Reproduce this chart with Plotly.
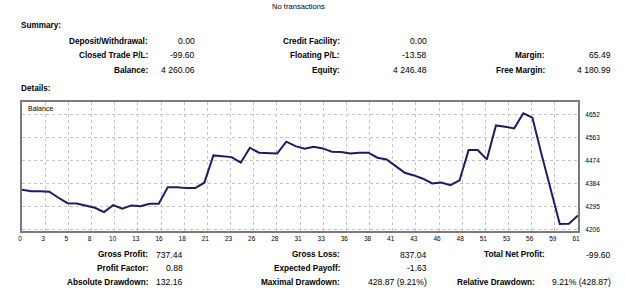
import plotly.graph_objects as go

# ---------------- data ----------------
trade_index = list(range(62))
balance = [4359.66, 4354.5, 4354.5, 4352.2, 4328.9, 4308.0, 4306.8, 4299.1, 4290.2, 4273.1,
           4300.2, 4286.3, 4299.1, 4296.4, 4305.7, 4305.7, 4370.0, 4370.0, 4366.2, 4366.2,
           4387.1, 4493.0, 4490.3, 4486.4, 4464.7, 4522.8, 4503.4, 4500.7, 4500.7, 4546.1,
           4529.0, 4519.0, 4526.7, 4520.1, 4507.3, 4505.8, 4500.7, 4503.4, 4503.4, 4484.0,
           4477.5, 4451.5, 4425.9, 4415.4, 4402.6, 4384.4, 4388.3, 4377.8, 4396.0, 4513.5,
           4513.5, 4477.5, 4609.3, 4604.3, 4597.7, 4656.4, 4639.2, 4497.0, 4362.0, 4227.5,
           4228.0, 4260.06]

x_tick_labels = ["0", "3", "5", "8", "10", "13", "16", "18", "21", "23", "26", "28", "31",
                 "33", "36", "38", "41", "43", "46", "48", "51", "53", "56", "59", "61"]
y_tick_labels = [4206, 4295, 4384, 4474, 4563, 4652]

summary_rows = [
    [("Deposit/Withdrawal:", "0.00"), ("Credit Facility:", "0.00"), None],
    [("Closed Trade P/L:", "-99.60"), ("Floating P/L:", "-13.58"), ("Margin:", "65.49")],
    [("Balance:", "4 260.06"), ("Equity:", "4 246.48"), ("Free Margin:", "4 180.99")],
]
detail_rows = [
    [("Gross Profit:", "737.44"), ("Gross Loss:", "837.04"), ("Total Net Profit:", "-99.60")],
    [("Profit Factor:", "0.88"), ("Expected Payoff:", "-1.63"), None],
    [("Absolute Drawdown:", "132.16"), ("Maximal Drawdown:", "428.87 (9.21%)"),
     ("Relative Drawdown:", "9.21% (428.87)")],
]

# ---------------- layout geometry ----------------
W, H = 625, 297
L, R, T, B = 22, 578, 102, 231
FONT = "Liberation Sans"


def px(xp):
    return (xp - L) / (R - L)


def py(yp):
    return (B - yp) / (B - T)


n_last = trade_index[-1]
n_ticks = len(x_tick_labels)
x_tickvals = [k * n_last / (n_ticks - 1) for k in range(n_ticks)]

fig = go.Figure()
fig.add_trace(go.Scatter(x=trade_index, y=balance, mode="lines",
                         line=dict(color="#1b1b6e", width=2), hoverinfo="skip"))

annotations = []


def add_text(text, x, y, anchor, bold=False, size=8.6):
    annotations.append(dict(
        text=("<b>%s</b>" % text) if bold else text,
        x=px(x), y=py(y), xref="paper", yref="paper",
        xanchor=anchor, yanchor="middle", showarrow=False,
        font=dict(family=FONT, size=size, color="#000000")))


add_text("No transactions", 298, 6, "center", size=7.6)
add_text("Summary:", 19, 25, "left", bold=True, size=8.2)
add_text("Details:", 19, 88, "left", bold=True, size=8.2)

label_right_top = [150, 342, 547]
value_right_top = [197, 429, 613]
rows_y_top = [41, 55, 70]
for r, row in enumerate(summary_rows):
    for c, cell in enumerate(row):
        if cell is None:
            continue
        add_text(cell[0], label_right_top[c], rows_y_top[r], "right", bold=True, size=8.2)
        add_text(cell[1], value_right_top[c], rows_y_top[r], "right", size=8.6)

label_right_bot = [150, 342, 547]
value_right_bot = [185, 429, 613]
rows_y_bot = [255, 268, 282]
for r, row in enumerate(detail_rows):
    for c, cell in enumerate(row):
        if cell is None:
            continue
        lr = label_right_bot[c]
        if c == 2 and r == 2:
            lr = 537
        add_text(cell[0], lr, rows_y_bot[r], "right", bold=True, size=8.2)
        add_text(cell[1], value_right_bot[c], rows_y_bot[r], "right", size=8.6)

# "Balance" label inside plot
annotations.append(dict(text="Balance", x=0.007, y=0.995, xref="paper", yref="paper",
                        xanchor="left", yanchor="top", showarrow=False,
                        font=dict(family=FONT, size=7, color="#000000")))

fig.update_layout(
    width=W, height=H,
    margin=dict(l=L, r=W - R, t=T, b=H - B, pad=0),
    paper_bgcolor="white", plot_bgcolor="white",
    showlegend=False,
    annotations=annotations,
    xaxis=dict(range=[0, n_last], tickvals=x_tickvals, ticktext=x_tick_labels,
               showgrid=True, gridcolor="#c4c4c4", griddash="dot", gridwidth=1,
               showline=True, linecolor="#7a7a7a", linewidth=2, mirror=True,
               ticks="", ticklabelstandoff=0, ticklabelshift=-2, zeroline=False,
               tickfont=dict(family=FONT, size=6.5, color="#000000")),
    yaxis=dict(range=[4200, 4700], tickvals=y_tick_labels,
               ticktext=[str(v) for v in y_tick_labels], side="right",
               showgrid=True, gridcolor="#c4c4c4", griddash="dot", gridwidth=1,
               showline=True, linecolor="#7a7a7a", linewidth=2, mirror=True,
               ticks="", ticklabelstandoff=4, zeroline=False,
               tickfont=dict(family=FONT, size=6.5, color="#000000")),
)

fig.write_html("out.html")
